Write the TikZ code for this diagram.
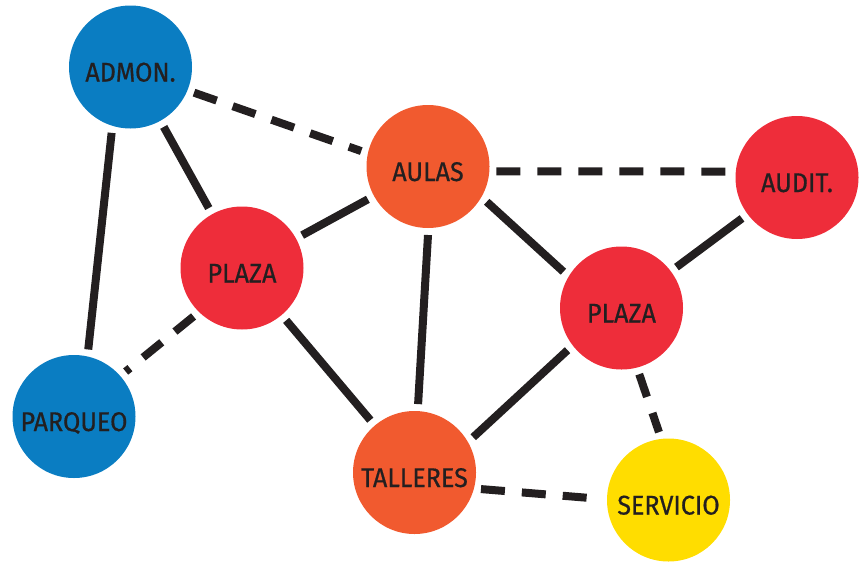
\documentclass[tikz,border=0pt]{standalone}
\usepackage{fontspec}
\setmainfont{Fira Sans}[FakeStretch=0.93,FakeBold=0.6]
\definecolor{cblue}{HTML}{0A7DC2}
\definecolor{corange}{HTML}{F15A2F}
\definecolor{cred}{HTML}{EE2D3A}
\definecolor{cyellow}{HTML}{FFDD00}
\definecolor{cink}{HTML}{231F20}
\tikzset{
  hub/.style={circle, minimum size=123pt, inner sep=0pt, outer sep=7pt,
    text=cink, text height=29pt, text depth=0pt, font=\fontsize{27}{27}\selectfont},
  solidlink/.style={draw=cink, line width=8pt, line cap=butt},
  dashlink/.style={draw=cink, line width=8pt, line cap=butt, dash pattern=on 24pt off 17pt},
}
\begin{document}
\begin{tikzpicture}[x=1pt,y=-1pt]
\useasboundingbox (0,0) rectangle (866,562);
\node[hub, fill=cblue]   (admon)    at (130.5,67)  {ADMON.};
\node[hub, fill=corange] (aulas)    at (428,166.5) {AULAS};
\node[hub, fill=cred]    (audit)    at (797,177.5) {AUDIT.};
\node[hub, fill=cred]    (plazaA)   at (242,268)   {PLAZA};
\node[hub, fill=cred]    (plazaB)   at (621.5,308) {PLAZA};
\node[hub, fill=cblue]   (parqueo)  at (74,416.5)  {PARQUEO};
\node[hub, fill=corange] (talleres) at (414.5,472.5) {TALLERES};
\node[hub, fill=cyellow] (servicio) at (668.5,500) {SERVICIO};
% solid
\draw[solidlink] (admon.-106) -- (parqueo.78);
\draw[solidlink] (admon) -- (plazaA);
\draw[solidlink] (plazaA) -- (aulas);
\draw[solidlink] (plazaA) -- (talleres);
\draw[solidlink] (aulas.-90) -- (talleres.87);
\draw[solidlink] (aulas.-31) -- (plazaB.148);
\draw[solidlink] (plazaB) -- (audit);
\draw[solidlink] (plazaB.218) -- (talleres.31);
% dashed
\draw[dashlink] (admon.-22) -- (aulas.167);
\draw[dashlink] (aulas.-4) -- (audit.175.5);
\draw[dashlink] (plazaA.-135) -- (parqueo.41);
\draw[dashlink] (plazaB.-75) -- (servicio.98);
\draw[dashlink] (talleres.-14) -- (servicio.179);
\end{tikzpicture}
\end{document}
